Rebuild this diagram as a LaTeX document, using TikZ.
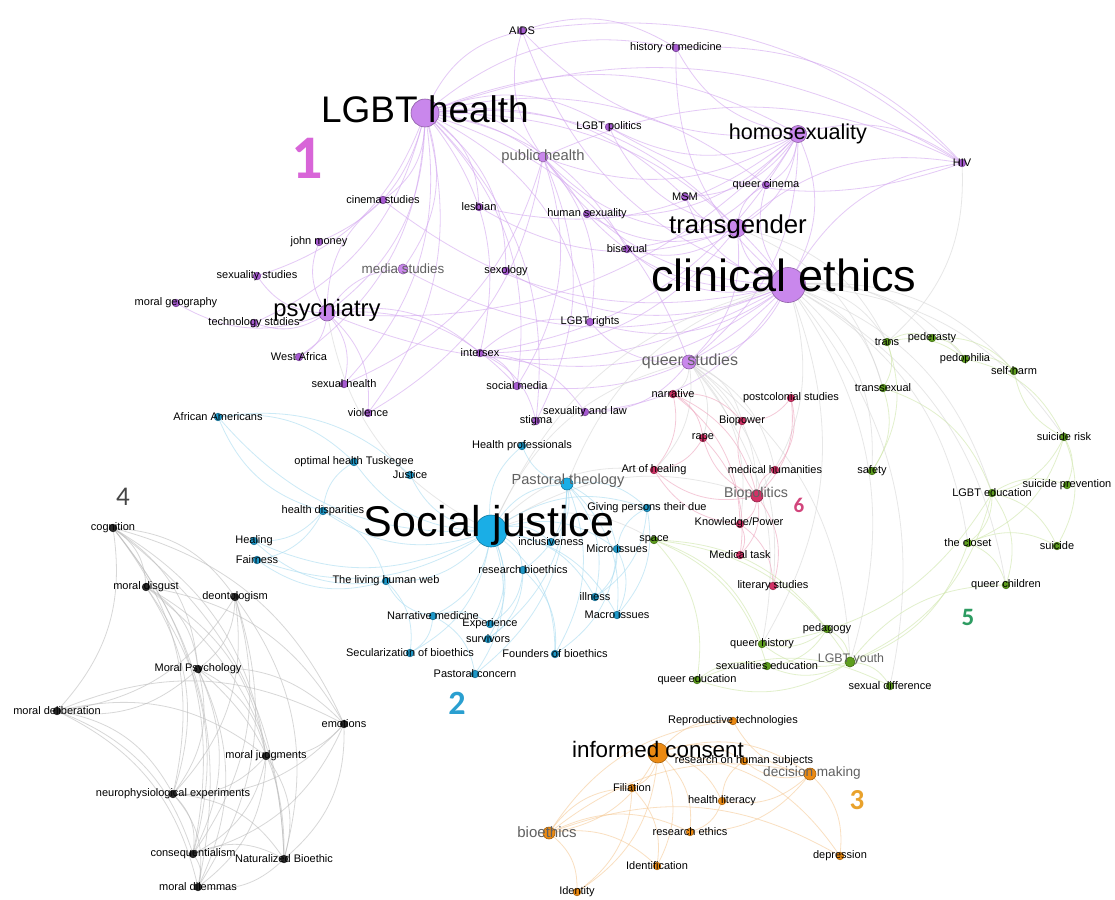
\documentclass[tikz,border=0pt]{standalone}
\usepackage{fontspec}
\setmainfont{Liberation Sans}
\newfontfamily\numfont{Carlito}
\usetikzlibrary{backgrounds}

\definecolor{purp}{HTML}{C987EC}
\definecolor{purpd}{HTML}{A65BD0}
\definecolor{blu}{HTML}{1AAEE6}
\definecolor{blud}{HTML}{1E98C8}
\definecolor{red6}{HTML}{D23266}
\definecolor{grn}{HTML}{5E9E1E}
\definecolor{org}{HTML}{EC8A12}
\definecolor{blk}{HTML}{2A2A2A}
\definecolor{epurp}{HTML}{D3A6F0}
\definecolor{eblu}{HTML}{A9DCF1}
\definecolor{ered}{HTML}{EEA6BE}
\definecolor{egrn}{HTML}{CFE6AA}
\definecolor{eorg}{HTML}{F6CB98}
\definecolor{egry}{HTML}{BDBDBD}
\definecolor{emix}{HTML}{D8D8D8}
\definecolor{num1}{HTML}{D865D8}
\definecolor{num2}{HTML}{2A9FD0}
\definecolor{num3}{HTML}{E9A22C}
\definecolor{num4}{HTML}{454545}
\definecolor{num5}{HTML}{2E9C62}
\definecolor{num6}{HTML}{D2457C}

\begin{document}
\begin{tikzpicture}[x=0.5pt, y=-0.5pt,
    term/.style={circle, fill=#1, draw=#1!70!black, line width=0.3pt, inner sep=0pt, minimum size=3.8pt},
    tag/.style={inner sep=0pt, text=black, font=\fontsize{5.5}{6}\selectfont},
    midtag/.style={inner sep=0pt, text=black!62, font=\fontsize{#1}{#1}\selectfont},
    head/.style={inner sep=0pt, text=black, font=\fontsize{#1}{#1}\selectfont},
    cnum/.style={inner sep=0pt, font=\numfont\bfseries\fontsize{#1}{#1}\selectfont},
    link/.style={draw=#1, line width=0.4pt, opacity=0.6, bend left=25}]

    \useasboundingbox (0,0) rectangle (1115,900);

    % draw nodes
        % cluster 1
        \foreach \n/\x/\y/\l in {aids/522/31/AIDS, histmed/676/48/history of medicine,
            lgbtpol/609/127/LGBT politics, hiv/962/163/HIV, queercin/766/185/queer cinema,
            msm/685/197/MSM, lesbian/479/207/lesbian, humsex/587/214/human sexuality,
            cinema/383/200/cinema studies, bisexual/627/249/bisexual, johnmoney/319/242/john money,
            sexology/506/271/sexology, sexstud/257/276/sexuality studies,
            moralgeo/176/303/moral geography, techstud/254/323/technology studies,
            lgbtrights/590/322/LGBT rights, westafr/299/357/West Africa, intersex/480/353/intersex,
            sexhealth/344/384/sexual health, socmedia/517/386/social media, violence/368/413/violence,
            sexlaw/585/412/sexuality and law, stigma/536/421/stigma}
        {
            \node [term=purpd] (\n) at (\x,\y) {};
            \node [tag] (t-\n) at (\n) {\l};
        }
        \node [term=purp, minimum size=5pt] (pubh) at (543,157) {};
        \node [midtag=7.4] (t-pubh) at (543,157) {public health};
        \node [term=purp, minimum size=5pt] (media) at (403,269) {};
        \node [midtag=6.7] (t-media) at (403,269) {media studies};
        \node [term=purp, minimum size=7pt] (queerst) at (689,362) {};
        \node [midtag=8] (t-queerst) at (690,361) {queer studies};
        \node [term=purp, minimum size=14pt] (lgbth) at (425,113) {};
        \node [head=18.5] (t-lgbth) at (425,109) {LGBT health};
        \node [term=purp, minimum size=8.5pt] (homo) at (798,134) {};
        \node [head=10.8] (t-homo) at (798,134) {homosexuality};
        \node [term=purp, minimum size=9pt] (transg) at (737,228) {};
        \node [head=12.9] (t-transg) at (738,227) {transgender};
        \node [term=purp, minimum size=17.5pt] (clin) at (788,285) {};
        \node [head=22.5] (t-clin) at (784,275) {clinical ethics};
        \node [term=purp, minimum size=8pt] (psych) at (327,313) {};
        \node [head=11.9] (t-psych) at (327,310) {psychiatry};

        % cluster 2
        \foreach \n/\x/\y/\l in {african/218/417/African Americans, healthprof/522/446/Health professionals,
            optimal/354/462/optimal health Tuskegee, justice/410/475/Justice,
            giving/647/508/Giving persons their due, healthdisp/323/511/health disparities,
            healing/254/541/Healing, fairness/257/560/Fairness, inclus/551/542/inclusiveness,
            micro/617/549/Micro issues, resbio/523/570/research bioethics,
            living/386/581/The living human web, illness/595/597/illness,
            narrmed/433/616/Narrative medicine, experience/490/624/Experience,
            macro/617/615/Macro issues, survivors/488/639/survivors,
            secular/410/653/Secularization of bioethics, founders/555/654/Founders of bioethics,
            pastcon/475/674/Pastoral concern}
        {
            \node [term=blud] (\n) at (\x,\y) {};
            \node [tag] (t-\n) at (\n) {\l};
        }
        \node [term=blu, minimum size=6pt] (pastheo) at (567,484) {};
        \node [midtag=7.3] (t-pastheo) at (568,481) {Pastoral theology};
        \node [term=blu, minimum size=16pt] (socj) at (491,531) {};
        \node [head=21.5] (t-socj) at (489,525) {Social justice};

        % cluster 6
        \foreach \n/\x/\y/\l in {narr/673/394/narrative, postcol/791/398/postcolonial studies,
            biopower/742/421/Biopower, rape/703/438/rape, artheal/654/470/Art of healing,
            medhum/775/470/medical humanities, medtask/740/555/Medical task,
            literary/773/586/literary studies}
        {
            \node [term=red6] (\n) at (\x,\y) {};
            \node [tag] (t-\n) at (\n) {\l};
        }
        \node [term=red6] (knowp) at (740,524) {};
        \node [tag] (t-knowp) at (739,523) {Knowledge/Power};
        \node [term=red6, minimum size=6pt] (biopol) at (757,496) {};
        \node [midtag=7.1] (t-biopol) at (756,494) {Biopolitics};

        % cluster 5
        \foreach \n/\x/\y/\l in {trans/887/342/trans, pederasty/932/338/pederasty,
            pedophilia/965/359/pedophilia, selfharm/1014/371/self-harm,
            transsex/883/388/transsexual, safety/872/471/safety, suicrisk/1064/437/suicide risk,
            suicprev/1067/485/suicide prevention, lgbted/992/493/LGBT education,
            closet/968/543/the closet, suicide/1057/546/suicide, qchildren/1006/585/queer children,
            space/654/540/space, pedagogy/827/629/pedagogy, qhistory/762/644/queer history,
            sexed/767/666/sexualities education, qeduc/697/680/queer education,
            sexdiff/890/686/sexual difference}
        {
            \node [term=grn] (\n) at (\x,\y) {};
            \node [tag] (t-\n) at (\n) {\l};
        }
        \node [term=grn, minimum size=5pt] (lgbty) at (850,662) {};
        \node [midtag=6.2] (t-lgbty) at (851,659) {LGBT youth};

        % cluster 3
        \foreach \n/\x/\y/\l in {repro/733/721/Reproductive technologies,
            rhs/744/761/research on human subjects, filiation/632/788/Filiation,
            healthlit/722/801/health literacy, reseth/690/832/research ethics,
            depression/840/856/depression, identif/657/866/Identification, identity/577/892/Identity}
        {
            \node [term=org] (\n) at (\x,\y) {};
            \node [tag] (t-\n) at (\n) {\l};
        }
        \node [term=org, minimum size=6pt] (decision) at (810,774) {};
        \node [midtag=6.8] (t-decision) at (812,773) {decision making};
        \node [term=org, minimum size=6pt] (bioeth) at (549,833) {};
        \node [midtag=7.5] (t-bioeth) at (547,832) {bioethics};
        \node [term=org, minimum size=10pt] (infc) at (658,753) {};
        \node [head=11.2] (t-infc) at (658,749) {informed consent};

        % cluster 4
        \foreach \n/\x/\y/\l in {cognition/113/528/cognition, disgust/146/587/moral disgust,
            deonto/235/597/deontologism, morpsy/198/669/Moral Psychology,
            delib/57/711/moral deliberation, emotions/344/724/emotions,
            judgments/266/756/moral judgments, neuro/173/794/neurophysiological experiments,
            conseq/193/854/consequentialism, natbio/284/859/Naturalized Bioethic,
            dilemmas/198/887/moral dilemmas}
        {
            \node [term=blk] (\n) at (\x,\y) {};
            \node [tag] (t-\n) at (\n) {\l};
        }

    % cluster numbers
    \node [cnum=31, text=num1] (num-1) at (307,158) {1};
    \node [cnum=17, text=num2] (num-2) at (457,703) {2};
    \node [cnum=14.5, text=num3] (num-3) at (857,800) {3};
    \node [inner sep=0pt, font=\numfont\fontsize{13.5}{13.5}\selectfont, text=num4] (num-4) at (123,497) {4};
    \node [cnum=12.5, text=num5] (num-5) at (968,617) {5};
    \node [cnum=10.5, text=num6] (num-6) at (799,505) {6};

    \begin{pgfonlayer}{background}
        \fill [white] (0,0) rectangle (1115,900);

        % lines in cluster 1
        \foreach \b in {aids,histmed,lgbtpol,homo,hiv,pubh,lesbian,humsex,cinema,johnmoney,media,
            sexology,clin,psych,sexstud,intersex,lgbtrights,bisexual,transg,msm,queerst,westafr,
            sexhealth,techstud,queercin,socmedia,stigma,violence}
            \draw [link=epurp] (lgbth) to (\b);
        \foreach \b in {aids,histmed,hiv,transg,queercin,msm,clin,pubh,lgbtpol,bisexual,lesbian,
            queerst,intersex,humsex,psych}
            \draw [link=epurp] (homo) to (\b);
        \foreach \b in {hiv,transg,psych,queerst,lgbtrights,intersex,pubh,humsex,histmed,aids,
            socmedia,sexlaw,bisexual,msm,queercin,media,cinema,sexology}
            \draw [link=epurp] (clin) to (\b);
        \foreach \b in {hiv,msm,queercin,bisexual,lgbtpol,pubh,lesbian,intersex,queerst,humsex}
            \draw [link=epurp] (transg) to (\b);
        \foreach \b in {moralgeo,techstud,sexstud,johnmoney,westafr,media,cinema,intersex,
            sexhealth,violence,socmedia}
            \draw [link=epurp] (psych) to (\b);
        \foreach \b in {hiv,aids,sexhealth,violence,stigma,socmedia,lgbtrights}
            \draw [link=epurp] (pubh) to (\b);
        \foreach \a/\b in {intersex/sexlaw,intersex/stigma,intersex/lgbtrights,intersex/socmedia,
            aids/hiv,aids/histmed,histmed/hiv,queerst/lgbtrights,queerst/sexlaw,hiv/lgbtpol}
            \draw [link=epurp] (\a) to (\b);

        % lines between clusters
        \foreach \b in {trans,transsex,pedophilia,pederasty,selfharm,suicrisk,lgbted,lgbty,
            qchildren,closet,safety,biopol,qhistory,sexdiff}
            \draw [link=emix] (clin) to (\b);
        \foreach \b in {narr,rape,biopower,biopol,artheal,medhum,literary,knowp,qhistory,lgbty}
            \draw [link=emix] (queerst) to (\b);
        \foreach \a/\b in {socj/clin,socj/psych,socj/queerst,pastheo/clin,socj/biopol,
            socj/artheal,socj/space,transg/trans,transg/transsex,hiv/trans}
            \draw [link=emix] (\a) to (\b);

        % lines in cluster 2
        \foreach \b in {african,healthprof,optimal,justice,pastheo,giving,healthdisp,healing,
            fairness,inclus,micro,resbio,living,illness,narrmed,experience,macro,survivors,
            secular,founders,pastcon}
            \draw [link=eblu] (socj) to (\b);
        \foreach \b in {healthprof,giving,micro,macro,illness,founders,survivors,inclus,resbio,pastcon}
            \draw [link=eblu] (pastheo) to (\b);
        \foreach \a/\b in {healthdisp/healing,healthdisp/fairness,healthdisp/optimal,
            healthdisp/living,healthdisp/african,african/optimal,african/justice,micro/macro,
            micro/illness,micro/founders,micro/giving,narrmed/experience,narrmed/secular,
            narrmed/pastcon,narrmed/living,living/secular,living/fairness,living/healing,
            resbio/experience,resbio/survivors,resbio/founders,giving/macro,giving/illness}
            \draw [link=eblu] (\a) to (\b);

        % lines in cluster 6
        \foreach \a/\b in {narr/rape,narr/biopower,narr/artheal,narr/biopol,narr/knowp,
            postcol/biopower,postcol/medhum,postcol/biopol,biopol/knowp,biopol/medtask,
            biopol/literary,biopol/rape,biopol/medhum,biopol/artheal,biopol/biopower,
            knowp/medtask,knowp/literary,knowp/artheal,rape/artheal,rape/medtask}
            \draw [link=ered] (\a) to (\b);

        % lines in cluster 5
        \foreach \a/\b in {trans/pederasty,trans/transsex,trans/pedophilia,trans/safety,
            pederasty/pedophilia,pederasty/selfharm,pedophilia/selfharm,pedophilia/suicrisk,
            transsex/safety,transsex/lgbted,suicrisk/suicprev,suicrisk/lgbted,suicrisk/suicide,
            suicrisk/closet,suicrisk/selfharm,lgbted/closet,lgbted/suicide,lgbted/qchildren,
            lgbted/lgbty,lgbted/suicprev,lgbted/qhistory,closet/suicide,closet/qchildren,
            closet/lgbty,space/qhistory,space/sexed,space/qeduc,space/lgbty,space/pedagogy,
            pedagogy/qhistory,pedagogy/lgbty,pedagogy/sexed,lgbty/sexdiff,lgbty/sexed,
            lgbty/qeduc,lgbty/qhistory,lgbty/qchildren,qeduc/sexed,qeduc/sexdiff}
            \draw [link=egrn] (\a) to (\b);

        % lines in cluster 3
        \foreach \b in {repro,rhs,decision,filiation,healthlit,bioeth,reseth,identif,identity,depression}
            \draw [link=eorg] (infc) to (\b);
        \foreach \a/\b in {bioeth/filiation,bioeth/identity,bioeth/identif,bioeth/reseth,
            bioeth/depression,bioeth/decision,bioeth/repro,decision/depression,decision/reseth,
            decision/repro,decision/rhs,decision/healthlit,healthlit/rhs,healthlit/reseth,
            filiation/identif,filiation/identity}
            \draw [link=eorg] (\a) to (\b);

        % lines in cluster 4
        \foreach \b in {disgust,deonto,morpsy,delib,neuro,conseq,dilemmas,judgments,natbio,emotions}
            \draw [link=egry] (cognition) to (\b);
        \foreach \a/\b in {disgust/morpsy,disgust/neuro,disgust/conseq,disgust/judgments,
            disgust/emotions,disgust/natbio,deonto/morpsy,deonto/delib,deonto/conseq,
            deonto/natbio,deonto/dilemmas,deonto/neuro,morpsy/delib,morpsy/emotions,
            morpsy/judgments,morpsy/neuro,morpsy/conseq,morpsy/natbio,morpsy/dilemmas,
            delib/neuro,delib/conseq,delib/emotions,delib/judgments,delib/dilemmas,
            emotions/judgments,emotions/neuro,emotions/conseq,emotions/natbio,
            judgments/neuro,judgments/conseq,judgments/dilemmas,judgments/natbio,
            neuro/conseq,neuro/dilemmas,neuro/natbio,conseq/dilemmas,conseq/natbio,
            natbio/dilemmas}
            \draw [link=egry] (\a) to (\b);
    \end{pgfonlayer}

\end{tikzpicture}
\end{document}
